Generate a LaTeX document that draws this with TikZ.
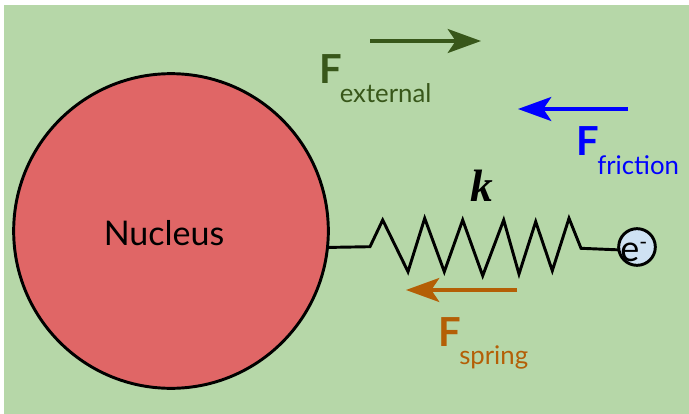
\documentclass[tikz,border=0pt]{standalone}
\usepackage{fontspec}
\setmainfont{Lato}
\newfontfamily\kfont{Liberation Serif}
\usetikzlibrary{arrows.meta,positioning}
\definecolor{bggreen}{HTML}{B6D7A8}
\definecolor{nucred}{HTML}{E06666}
\definecolor{elblue}{HTML}{CFE2F3}
\definecolor{extgreen}{HTML}{38571A}
\definecolor{sprorange}{HTML}{B45F06}
\begin{document}
\begin{tikzpicture}[
      x=0.75pt,y=-0.75pt,
      ball/.style={circle,draw=black,line width=2.2pt,inner sep=0pt,outer sep=0pt},
      force/.style={line width=2.5pt,-{Stealth[length=25pt,width=18pt,inset=6pt]}},
      fbig/.style={anchor=base west,inner sep=0pt,font=\fontsize{30}{30}\selectfont\bfseries},
      fsub/.style={anchor=base west,inner sep=0pt,font=\fontsize{19.3}{20}\selectfont}]
    \useasboundingbox (0,0) rectangle (689,414);
    \fill[bggreen] (4,5) rectangle (689,414);
    \node[ball,fill=nucred,minimum size=236pt] (nuc) at (171,231) {};
    \node[ball,fill=elblue,minimum size=27.5pt] (el) at (637,247) {};
    \node[anchor=base,inner sep=0pt,font=\fontsize{25.5}{26}\selectfont] (nuclabel) at (164,245) {Nucleus};
    \node[anchor=base west,inner sep=0pt,font=\fontsize{27}{27}\selectfont] (ellabel) at (620,261) {e\raisebox{9pt}{\fontsize{16}{16}\selectfont -}};
    \node[anchor=base,inner sep=0pt,font=\fontsize{34}{34}\selectfont\kfont\bfseries\itshape] (klabel) at (482,201) {k};
    % spring
    \draw[line width=2.2pt,line join=miter] (nuc.-6.3)--(370,246.7)--(382.7,220)--(408,271.7)--(424.7,218.3)
      --(444.3,271.7)--(462.7,220)--(482.7,275.7)--(503.7,220)--(519,274)--(535.7,221.7)
      --(552.3,270.7)--(569,218.3)--(581,248.3)--(el.189);
    % forces
    \coordinate (extstart) at (370,41);
    \coordinate (extend) at (481,41);
    \coordinate (fricstart) at (628,109);
    \coordinate (fricend) at (518,109);
    \coordinate (sprstart) at (517,290);
    \coordinate (sprend) at (406,290);
    \draw[force,extgreen] (extstart)--(extend);
    \draw[force,blue] (fricstart)--(fricend);
    \draw[force,sprorange] (sprstart)--(sprend);
    \node[fbig,text=extgreen] (fext) at (319,83.5) {F};
    \node[fsub,text=extgreen] (subext) at (339.5,102) {external};
    \node[fbig,text=blue] (ffric) at (576,155) {F};
    \node[fsub,text=blue] (subfric) at (597,174) {friction};
    \node[fbig,text=sprorange] (fspr) at (438,346) {F};
    \node[fsub,text=sprorange] (subspr) at (459,364) {spring};
  \end{tikzpicture}
\end{document}
